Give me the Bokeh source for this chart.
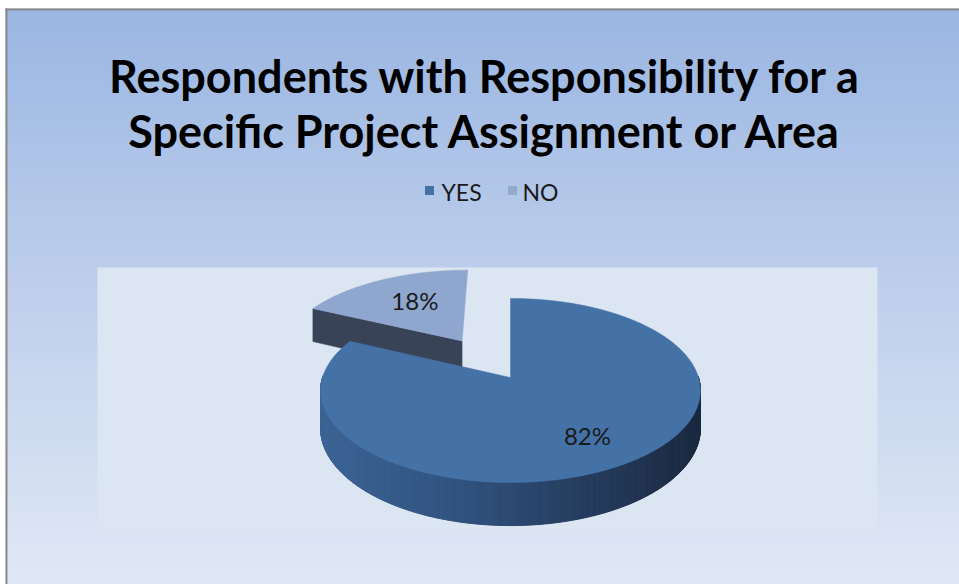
import numpy as np
from bokeh.plotting import figure
from bokeh.models import Range1d
from bokeh.core.properties import value
from bokeh.embed import file_html
from bokeh.resources import INLINE

# ---------------- data ----------------
title_lines = ["Respondents with Responsibility for a", "Specific Project Assignment or Area"]
categories = ["YES", "NO"]
shares = [82, 18]
pct_labels = ["82%", "18%"]
explode = [0.0, 0.51]

# ---------------- style ----------------
top_colors = ["#4471A6", "#8FA6CF"]
side_colors = ["#2E4B74", "#384357"]
legend_colors = ["#4471A6", "#93A9D0"]
FONT = "Lato"

W, H = 959, 584

p = figure(width=W, height=H, x_range=Range1d(0, W), y_range=Range1d(H, 0),
           output_backend="svg", toolbar_location=None, min_border=0,
           x_axis_location=None, y_axis_location=None)
p.grid.visible = False
p.outline_line_color = None
p.background_fill_color = "#FFFFFF"
p.border_fill_color = "#FFFFFF"


def hex2rgb(h):
    h = h.lstrip("#")
    return np.array([int(h[i:i + 2], 16) for i in (0, 2, 4)], dtype=float)


def rgb2hex(c):
    c = np.clip(np.round(c), 0, 255).astype(int)
    return "#%02x%02x%02x" % tuple(c)


def interp_color(stops, t):
    for (p0, c0), (p1, c1) in zip(stops[:-1], stops[1:]):
        if t <= p1:
            u = 0 if p1 == p0 else (t - p0) / (p1 - p0)
            u = min(max(u, 0), 1)
            return rgb2hex(hex2rgb(c0) * (1 - u) + hex2rgb(c1) * u)
    return stops[-1][1]


# ---------------- chart area background (gradient) ----------------
CH_L, CH_T = 5, 8
bg_stops = [(0.0, "#9AB6E2"), (0.45, "#BCCDEB"), (1.0, "#E0E8F5")]
band = 2
ys = np.arange(CH_T, H, band)
p.quad(left=CH_L, right=W, top=ys, bottom=ys + band + 0.5,
       color=[interp_color(bg_stops, (y - CH_T) / (H - CH_T)) for y in ys], line_color=None)

# chart border (left / top)
p.quad(left=CH_L, right=CH_L + 2, top=CH_T, bottom=H, color="#8A8A8A", line_color=None)
p.quad(left=CH_L, right=W, top=CH_T, bottom=CH_T + 2, color="#8A8A8A", line_color=None)

# plot area
p.quad(left=97, right=877, top=267, bottom=533, color="#DCE5F2", line_color=None)

# ---------------- 3D pie ----------------
CX, CY = 510, 377
A, B, K, DEP = 188.0, 90.2, 0.141, 37.0


def proj(x, y, d):
    f = 1.0 / (1.0 + K * y)
    return CX + A * x * f, CY + (-B * y + DEP * d) * f


total = float(sum(shares))
starts, ends = [], []
ang = 90.0
for s in shares:
    starts.append(ang)
    ang -= 360.0 * s / total
    ends.append(ang)
mids = [(a + b) / 2 for a, b in zip(starts, ends)]
offs = [(e * np.cos(np.radians(m)), e * np.sin(np.radians(m))) for e, m in zip(explode, mids)]

side_stops = [(0.0, "#3C6494"), (0.35, "#315380"), (0.7, "#253C5E"), (1.0, "#1B2A40")]

order = sorted(range(len(shares)), key=lambda i: -offs[i][1])
for i in order:
    ox, oy = offs[i]
    t1, t2 = starts[i], ends[i]
    thetas = np.linspace(t1, t2, max(int(abs(t1 - t2)), 2) * 2 + 1)
    for edge, nrm in ((t1, t1 + 90), (t2, t2 - 90)):
        if np.sin(np.radians(nrm)) < -1e-6:
            ex, ey = ox + np.cos(np.radians(edge)), oy + np.sin(np.radians(edge))
            pts = [proj(ox, oy, 0), proj(ex, ey, 0), proj(ex, ey, 1), proj(ox, oy, 1)]
            p.patch([q[0] for q in pts], [q[1] for q in pts], fill_color=side_colors[i],
                    line_color=side_colors[i], line_width=0.5)
    xs_l, ys_l, cols = [], [], []
    for a0, a1 in zip(thetas[:-1], thetas[1:]):
        am = np.radians((a0 + a1) / 2)
        if np.sin(am) >= 0.02:
            continue
        r0, r1 = np.radians(a0), np.radians(a1)
        P = [proj(ox + np.cos(r0), oy + np.sin(r0), 0), proj(ox + np.cos(r1), oy + np.sin(r1), 0),
             proj(ox + np.cos(r1), oy + np.sin(r1), 1), proj(ox + np.cos(r0), oy + np.sin(r0), 1)]
        xs_l.append([q[0] for q in P])
        ys_l.append([q[1] for q in P])
        xm = np.mean([q[0] for q in P])
        cols.append(interp_color(side_stops, (xm - (CX - A)) / (2 * A)))
    if xs_l:
        p.patches(xs_l, ys_l, fill_color=cols, line_color=cols, line_width=1.0)
    rad = np.radians(thetas)
    tx = [proj(ox, oy, 0)[0]] + [proj(ox + np.cos(r), oy + np.sin(r), 0)[0] for r in rad]
    ty = [proj(ox, oy, 0)[1]] + [proj(ox + np.cos(r), oy + np.sin(r), 0)[1] for r in rad]
    p.patch(tx, ty, fill_color=top_colors[i], line_color=top_colors[i], line_width=0.5)

# percentage labels
lab_r = [0.7, 0.56]
lab_dy = [0, -5]
lx, ly = [], []
for i in range(len(shares)):
    m = np.radians(mids[i])
    X, Y = proj(offs[i][0] + lab_r[i] * np.cos(m), offs[i][1] + lab_r[i] * np.sin(m), 0)
    lx.append(X)
    ly.append(Y + lab_dy[i])
p.text(x=lx, y=ly, text=pct_labels, text_align="center", text_baseline="middle",
       text_font=value(FONT), text_font_size="24px", text_color="#1A1A1A")

# ---------------- title ----------------
p.text(x=[485, 485], y=[75, 130], text=title_lines,
       text_align="center", text_baseline="alphabetic", text_font=value(FONT),
       text_font_style="bold", text_font_size="45px", text_color="#000000")

# ---------------- legend ----------------
sq_x = [429, 512]
tx_x = [441, 522]
p.scatter(x=sq_x, y=[190] * 2, marker="square", size=9,
          fill_color=legend_colors, line_color=None)
p.text(x=tx_x, y=[191] * 2, text=categories, text_align="left", text_baseline="middle",
       text_font=value(FONT), text_font_size="23px", text_color="#1A1A1A")

open("out.html", "w").write(file_html(p, INLINE))
